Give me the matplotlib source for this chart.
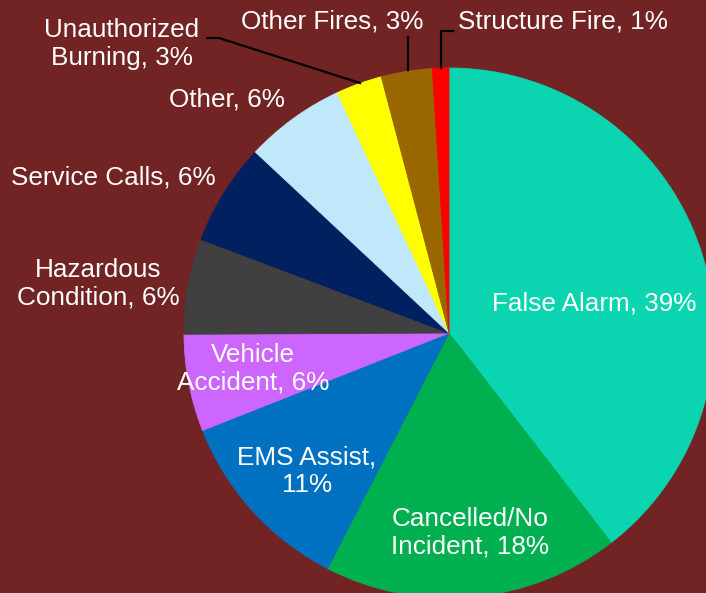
import matplotlib.pyplot as plt

# slice data, clockwise from 12 o'clock
categories = ['False Alarm', 'Cancelled/No Incident', 'EMS Assist', 'Vehicle Accident',
              'Hazardous Condition', 'Service Calls', 'Other', 'Unauthorized Burning',
              'Other Fires', 'Structure Fire']
shares = [39.4, 18.0, 11.4, 5.9, 5.8, 6.2, 6.1, 2.8, 3.1, 1.0]
label_text = ['False Alarm, 39%', 'Cancelled/No\nIncident, 18%', 'EMS Assist,\n11%',
              'Vehicle\nAccident, 6%', 'Hazardous\nCondition, 6%', 'Service Calls, 6%',
              'Other, 6%', 'Unauthorized\nBurning, 3%', 'Other Fires, 3%',
              'Structure Fire, 1%']
colors = ['#0BD5B1', '#00B050', '#0070C0', '#CC66FF', '#404040', '#002060',
          '#BFE9FB', '#FFFF00', '#996600', '#FF0000']
bg = '#722424'

W, H = 706, 593
fig = plt.figure(figsize=(W / 100, H / 100), dpi=100, facecolor=bg)
ax = fig.add_axes([0, 0, 1, 1])
ax.set_facecolor(bg)

cx, cy, r = 449, 333, 265

# y axis is inverted below, so counterclock=True shows up clockwise on screen
wedges, _ = ax.pie(shares, colors=colors, startangle=-90, counterclock=True,
                   center=(cx, cy), radius=r, frame=True)
for w, c in zip(wedges, colors):
    w.set_edgecolor(c)
    w.set_linewidth(0.6)
ax.set_xlim(0, W)
ax.set_ylim(H, 0)
ax.set_aspect('equal')
ax.axis('off')

# label centres in pixels (layout only)
label_pos = [(594, 303), (470, 533), (307, 471), (253, 369), (98, 284),
             (113, 177), (227, 100), (122, 44), (332, 22), (563, 22)]

for txt, (x, y) in zip(label_text, label_pos):
    ax.text(x, y, txt, ha='center', va='center', color='white', fontsize=18.8,
            family='Liberation Sans', linespacing=1.17)

# leader lines
ax.plot([207, 219, 360], [38, 38, 83], color='black', lw=1.6)
ax.plot([408, 408], [37, 70], color='black', lw=1.6)
ax.plot([453, 441, 441], [31, 31, 68], color='black', lw=1.6)

fig.savefig('out.png', dpi=100, facecolor=bg)
